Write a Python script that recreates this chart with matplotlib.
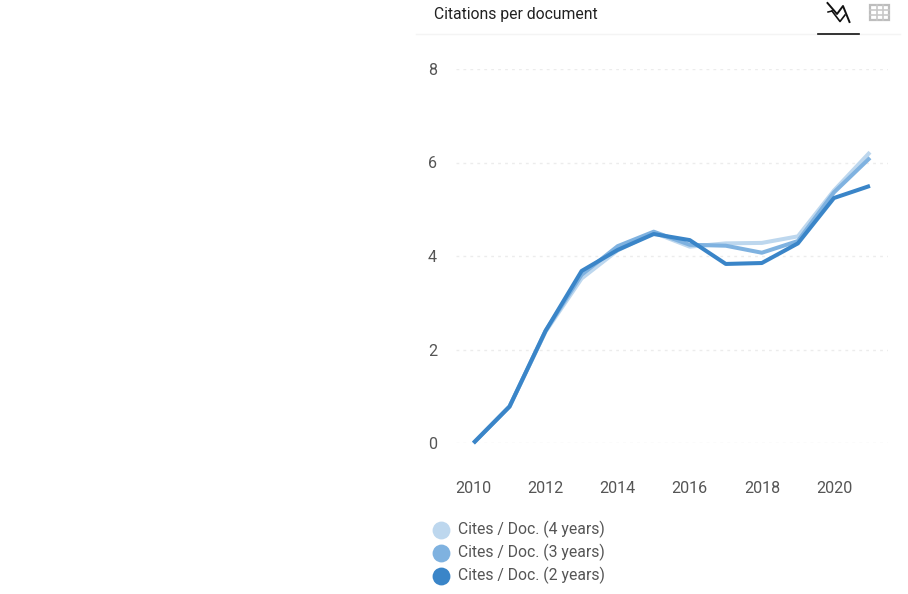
import matplotlib
matplotlib.use('Agg')
import matplotlib.pyplot as plt
from matplotlib.patches import Rectangle

plt.rcParams['font.family'] = ['Roboto', 'DejaVu Sans']

years = [2010, 2011, 2012, 2013, 2014, 2015, 2016, 2017, 2018, 2019, 2020, 2021]
cites_4y = [0, 0.78, 2.38, 3.52, 4.12, 4.50, 4.20, 4.27, 4.28, 4.42, 5.40, 6.22]
cites_3y = [0, 0.78, 2.40, 3.60, 4.21, 4.52, 4.24, 4.22, 4.07, 4.32, 5.36, 6.10]
cites_2y = [0, 0.78, 2.40, 3.68, 4.13, 4.47, 4.34, 3.83, 3.85, 4.27, 5.24, 5.50]
labels = ['Cites / Doc. (4 years)', 'Cites / Doc. (3 years)', 'Cites / Doc. (2 years)']
colors = ['#bdd7ee', '#7fb2e0', '#3a85c8']
yticks = [0, 2, 4, 6, 8]
xticks = [2010, 2012, 2014, 2016, 2018, 2020]
title = 'Citations per document'

W, H = 908, 594
fig = plt.figure(figsize=(W / 100, H / 100), dpi=100)

# overlay in pixel coords for header, icons and legend
bg = fig.add_axes([0, 0, 1, 1])
bg.set_xlim(0, W)
bg.set_ylim(H, 0)
bg.axis('off')

# plot area
left, right, top, bottom = 456, 888, 69, 443
ax = fig.add_axes([left / W, 1 - bottom / H, (right - left) / W, (bottom - top) / H])
ax.patch.set_alpha(0)
ax.set_xlim(2009.515, 2021.5)
ax.set_ylim(0, 8)
for s in ax.spines.values():
    s.set_visible(False)
ax.grid(axis='y', color='#ececec', lw=1, ls=(0, (2, 3)))
ax.set_axisbelow(True)
for vals, c in zip([cites_4y, cites_3y, cites_2y], colors):
    ax.plot(years, vals, color=c, lw=2.9, clip_on=False, solid_joinstyle='round', solid_capstyle='butt')
ax.set_xticks(xticks)
ax.set_yticks(yticks)
ax.tick_params(axis='both', length=0, labelsize=11.6, labelcolor='#555555')
ax.tick_params(axis='x', pad=27.5)
ax.tick_params(axis='y', pad=18)
for t in ax.get_yticklabels():
    t.set_x(0.014)

# header
bg.text(434, 14.5, title, fontsize=11.3, color='#222222', va='center', ha='left')
bg.plot([416, 900], [33.5, 33.5], color='#f4f4f4', lw=1)
bg.plot([818, 859], [33.5, 33.5], color='#111111', lw=1.2)

# line chart icon
bg.plot([827.5, 837, 843, 849.5], [3, 14, 6, 22], color='#111111', lw=1.4)
bg.plot([828, 832], [12, 11], color='#111111', lw=1.1)
bg.plot([832, 840, 845], [11, 21.5, 15], color='#111111', lw=1.2)

# table icon
bg.add_patch(Rectangle((870, 5), 19, 15, fc='none', ec='#bdbdbd', lw=1.6))
for gx in [876.5, 882.5]:
    bg.plot([gx, gx], [5, 20], color='#c8c8c8', lw=1.2)
for gy in [10, 15]:
    bg.plot([870, 889], [gy, gy], color='#c8c8c8', lw=1.2)

# legend
for i, (lab, c) in enumerate(zip(labels, colors)):
    y = 529.5 + i * 23
    bg.scatter([440.5], [y + 0.5], s=165, color=c, linewidths=0)
    bg.text(457.5, y - 0.5, lab, fontsize=11.35, color='#555555', va='center', ha='left')

fig.savefig('out.png', dpi=100)
